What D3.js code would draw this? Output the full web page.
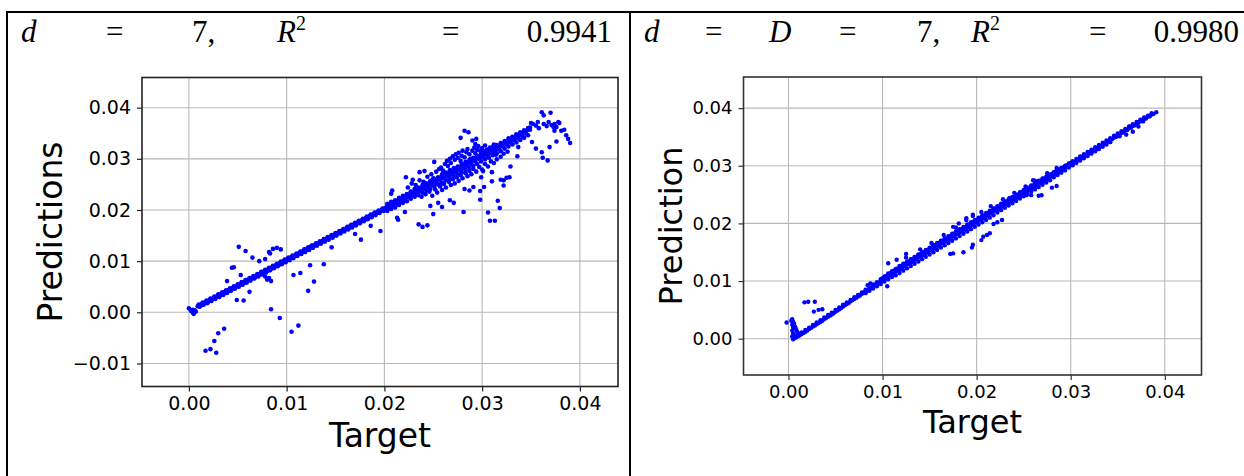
<!DOCTYPE html>
<html>
<head>
<meta charset="utf-8">
<script src="https://cdn.jsdelivr.net/npm/d3@7"></script>
<style>
  html, body { margin: 0; padding: 0; background: #fff; }
  svg { display: block; }
</style>
</head>
<body>
<svg id="chart" width="1244" height="476"></svg>
<script>
// ---- data: [target, prediction] pairs ----

// left panel (d = 7): dense diagonal band of predictions
const leftBand = [
  [0.0000,0.0008],[0.0002,0.0003],[0.0004,-0.0001],[0.0005,-0.0003],[0.0006,0.0004],[0.0007,0.0001],[0.0004,0.0005],
  [0.0009,0.0012],[0.0011,0.0011],[0.0013,0.0016],[0.0015,0.0015],[0.0017,0.0020],[0.0019,0.0018],
  [0.0021,0.0024],[0.0023,0.0022],[0.0025,0.0028],[0.0027,0.0026],[0.0029,0.0032],[0.0031,0.0030],
  [0.0033,0.0036],[0.0035,0.0034],[0.0037,0.0040],[0.0039,0.0038],[0.0041,0.0044],[0.0043,0.0042],
  [0.0045,0.0048],[0.0047,0.0046],[0.0049,0.0052],[0.0051,0.0050],[0.0053,0.0056],[0.0055,0.0054],
  [0.0057,0.0060],[0.0059,0.0058],[0.0061,0.0064],[0.0063,0.0062],[0.0065,0.0068],[0.0067,0.0066],
  [0.0069,0.0072],[0.0071,0.0070],[0.0073,0.0076],[0.0075,0.0074],[0.0077,0.0080],[0.0079,0.0078],
  [0.0081,0.0084],[0.0083,0.0082],[0.0085,0.0088],[0.0087,0.0086],[0.0089,0.0092],[0.0091,0.0090],
  [0.0093,0.0096],[0.0095,0.0094],[0.0097,0.0100],[0.0099,0.0098],[0.0101,0.0105],[0.0103,0.0102],
  [0.0105,0.0108],[0.0107,0.0106],[0.0109,0.0112],[0.0111,0.0110],[0.0113,0.0116],[0.0115,0.0114],
  [0.0117,0.0120],[0.0119,0.0118],[0.0121,0.0124],[0.0123,0.0122],[0.0125,0.0129],[0.0127,0.0126],
  [0.0129,0.0132],[0.0131,0.0130],[0.0133,0.0136],[0.0135,0.0134],[0.0137,0.0140],[0.0139,0.0138],
  [0.0141,0.0144],[0.0143,0.0142],[0.0145,0.0148],[0.0147,0.0146],[0.0149,0.0152],[0.0151,0.0150],
  [0.0153,0.0156],[0.0155,0.0154],[0.0157,0.0160],[0.0159,0.0158],[0.0161,0.0164],[0.0163,0.0162],
  [0.0165,0.0168],[0.0167,0.0166],[0.0169,0.0172],[0.0171,0.0170],[0.0173,0.0176],[0.0175,0.0174],
  [0.0177,0.0180],[0.0179,0.0178],[0.0181,0.0184],[0.0183,0.0182],[0.0185,0.0188],[0.0187,0.0186],
  [0.0189,0.0192],[0.0191,0.0190],[0.0193,0.0196],[0.0195,0.0194],[0.0197,0.0200],[0.0199,0.0198],
  [0.0010,0.0015],[0.0012,0.0013],[0.0014,0.0019],[0.0016,0.0017],[0.0018,0.0023],[0.0020,0.0021],
  [0.0022,0.0027],[0.0024,0.0025],[0.0026,0.0031],[0.0028,0.0029],[0.0030,0.0035],[0.0032,0.0033],
  [0.0034,0.0039],[0.0036,0.0037],[0.0038,0.0043],[0.0040,0.0041],[0.0042,0.0047],[0.0044,0.0045],
  [0.0046,0.0051],[0.0048,0.0049],[0.0050,0.0055],[0.0052,0.0053],[0.0054,0.0059],[0.0056,0.0057],
  [0.0058,0.0063],[0.0060,0.0061],[0.0062,0.0067],[0.0064,0.0065],[0.0066,0.0071],[0.0068,0.0069],
  [0.0070,0.0075],[0.0072,0.0073],[0.0074,0.0079],[0.0076,0.0077],[0.0078,0.0083],[0.0080,0.0081],
  [0.0082,0.0087],[0.0084,0.0085],[0.0086,0.0091],[0.0088,0.0089],[0.0090,0.0095],[0.0092,0.0093],
  [0.0094,0.0099],[0.0096,0.0097],[0.0098,0.0103],[0.0100,0.0102],[0.0102,0.0107],[0.0104,0.0106],
  [0.0106,0.0111],[0.0108,0.0110],[0.0110,0.0115],[0.0112,0.0114],[0.0114,0.0119],[0.0116,0.0118],
  [0.0118,0.0123],[0.0120,0.0122],[0.0122,0.0127],[0.0124,0.0126],[0.0126,0.0131],[0.0128,0.0130],
  [0.0130,0.0135],[0.0132,0.0134],[0.0134,0.0139],[0.0136,0.0138],[0.0138,0.0143],[0.0140,0.0142],
  [0.0142,0.0147],[0.0144,0.0146],[0.0146,0.0151],[0.0148,0.0150],[0.0150,0.0155],[0.0152,0.0154],
  [0.0154,0.0159],[0.0156,0.0158],[0.0158,0.0163],[0.0160,0.0162],[0.0162,0.0167],[0.0164,0.0166],
  [0.0166,0.0171],[0.0168,0.0170],[0.0170,0.0175],[0.0172,0.0174],[0.0174,0.0179],[0.0176,0.0178],
  [0.0178,0.0183],[0.0180,0.0182],[0.0182,0.0187],[0.0184,0.0186],[0.0186,0.0191],[0.0188,0.0190],
  [0.0190,0.0195],[0.0192,0.0194],[0.0194,0.0199],[0.0196,0.0198],[0.0198,0.0203],[0.0200,0.0202],
  // upper range, band widens
  [0.0201,0.0204],[0.0205,0.0208],[0.0209,0.0212],[0.0213,0.0216],[0.0217,0.0220],[0.0221,0.0225],
  [0.0225,0.0229],[0.0229,0.0233],[0.0233,0.0237],[0.0237,0.0241],[0.0241,0.0245],[0.0245,0.0249],
  [0.0249,0.0253],[0.0253,0.0257],[0.0257,0.0262],[0.0261,0.0266],[0.0265,0.0270],[0.0269,0.0274],
  [0.0273,0.0278],[0.0277,0.0282],[0.0281,0.0286],[0.0285,0.0290],[0.0289,0.0294],[0.0293,0.0299],
  [0.0297,0.0303],[0.0301,0.0307],[0.0305,0.0311],[0.0309,0.0315],[0.0313,0.0319],[0.0317,0.0324],
  [0.0321,0.0328],[0.0325,0.0332],[0.0329,0.0336],[0.0333,0.0340],[0.0337,0.0344],[0.0341,0.0349],
  [0.0345,0.0353],[0.0349,0.0357],
  [0.0203,0.0212],[0.0207,0.0216],[0.0211,0.0219],[0.0215,0.0224],[0.0219,0.0228],[0.0223,0.0231],
  [0.0227,0.0236],[0.0231,0.0241],[0.0235,0.0244],[0.0239,0.0249],[0.0243,0.0252],[0.0247,0.0257],
  [0.0251,0.0261],[0.0255,0.0264],[0.0259,0.0270],[0.0263,0.0273],[0.0267,0.0278],[0.0271,0.0282],
  [0.0275,0.0285],[0.0279,0.0290],[0.0283,0.0294],[0.0287,0.0297],[0.0291,0.0302],[0.0295,0.0306],
  [0.0299,0.0310],[0.0303,0.0315],[0.0307,0.0318],[0.0311,0.0323],[0.0315,0.0327],[0.0319,0.0331],
  [0.0323,0.0335],[0.0327,0.0340],[0.0331,0.0343],[0.0335,0.0348],[0.0339,0.0352],[0.0343,0.0356],
  [0.0347,0.0360],
  [0.0203,0.0209],[0.0207,0.0213],[0.0211,0.0217],[0.0215,0.0221],[0.0219,0.0226],[0.0223,0.0230],
  [0.0227,0.0234],[0.0231,0.0238],[0.0235,0.0242],[0.0239,0.0246],[0.0243,0.0250],[0.0247,0.0254],
  [0.0251,0.0258],[0.0255,0.0263],[0.0259,0.0267],[0.0263,0.0271],[0.0267,0.0275],[0.0271,0.0279],
  [0.0275,0.0283],[0.0279,0.0287],[0.0283,0.0291],[0.0287,0.0295],[0.0291,0.0300],[0.0295,0.0304],
  [0.0299,0.0308],[0.0303,0.0312],[0.0307,0.0316],[0.0311,0.0320],[0.0315,0.0324],[0.0319,0.0328],
  [0.0323,0.0332],[0.0327,0.0337],[0.0331,0.0341],[0.0335,0.0345],[0.0339,0.0349],[0.0343,0.0353],
  [0.0347,0.0357],
  [0.0201,0.0200],[0.0205,0.0204],[0.0209,0.0208],[0.0213,0.0212],[0.0217,0.0216],[0.0221,0.0221],
  [0.0225,0.0225],[0.0229,0.0229],[0.0233,0.0233],[0.0237,0.0237],[0.0241,0.0241],[0.0245,0.0245],
  [0.0249,0.0249],[0.0253,0.0253],[0.0257,0.0258],[0.0261,0.0262],[0.0265,0.0266],[0.0269,0.0270],
  [0.0273,0.0274],[0.0277,0.0278],[0.0281,0.0282],[0.0285,0.0286],[0.0289,0.0290],[0.0293,0.0295],
  [0.0297,0.0299],[0.0301,0.0303],[0.0305,0.0307],[0.0309,0.0311],[0.0313,0.0315],[0.0317,0.0320],
  [0.0321,0.0324],[0.0325,0.0328],[0.0329,0.0332],[0.0333,0.0336],[0.0337,0.0340],[0.0341,0.0345],
  [0.0345,0.0349],
  [0.0203,0.0198],[0.0207,0.0202],[0.0211,0.0205],[0.0215,0.0210],[0.0219,0.0214],[0.0223,0.0217],
  [0.0227,0.0222],[0.0231,0.0226],[0.0235,0.0229],[0.0239,0.0234],[0.0243,0.0238],[0.0247,0.0241],
  [0.0251,0.0246],[0.0255,0.0250],[0.0259,0.0253],[0.0263,0.0258],[0.0267,0.0262],[0.0271,0.0266],
  [0.0275,0.0270],[0.0279,0.0274],[0.0283,0.0278],[0.0287,0.0282],[0.0291,0.0286],[0.0295,0.0290],
  [0.0299,0.0295],[0.0303,0.0299],[0.0307,0.0302],[0.0311,0.0307],[0.0315,0.0311],[0.0319,0.0315],
  [0.0323,0.0320],[0.0327,0.0324],[0.0331,0.0328],[0.0335,0.0332],[0.0339,0.0337],[0.0343,0.0341],
  [0.0347,0.0346]
];

// left panel: spread of predictions around the band
const leftCloud = [
  [0.0224,0.0244],[0.0228,0.0252],[0.0232,0.0249],[0.0236,0.0258],[0.0240,0.0255],[0.0244,0.0265],
  [0.0248,0.0270],[0.0250,0.0262],[0.0253,0.0275],[0.0256,0.0280],[0.0258,0.0283],[0.0260,0.0277],
  [0.0262,0.0290],[0.0264,0.0296],[0.0265,0.0286],[0.0267,0.0300],[0.0268,0.0292],[0.0270,0.0305],
  [0.0272,0.0298],[0.0273,0.0309],[0.0275,0.0302],[0.0276,0.0312],[0.0278,0.0296],[0.0279,0.0306],
  [0.0280,0.0316],[0.0282,0.0303],[0.0284,0.0313],[0.0285,0.0319],[0.0287,0.0309],[0.0288,0.0300],
  [0.0290,0.0316],[0.0292,0.0322],[0.0293,0.0311],[0.0295,0.0318],[0.0296,0.0325],[0.0298,0.0316],
  [0.0300,0.0321],[0.0302,0.0314],[0.0303,0.0326],[0.0305,0.0318],[0.0306,0.0306],[0.0308,0.0322],
  [0.0310,0.0312],[0.0312,0.0328],[0.0314,0.0308],[0.0316,0.0320],
  [0.0238,0.0226],[0.0242,0.0231],[0.0246,0.0236],[0.0249,0.0228],[0.0252,0.0240],[0.0254,0.0234],
  [0.0257,0.0246],[0.0259,0.0239],[0.0261,0.0251],[0.0263,0.0244],[0.0266,0.0255],[0.0268,0.0249],
  [0.0270,0.0260],[0.0272,0.0252],[0.0274,0.0264],[0.0276,0.0257],[0.0278,0.0268],[0.0280,0.0262],
  [0.0283,0.0272],[0.0285,0.0266],[0.0287,0.0276],[0.0289,0.0270],[0.0291,0.0280],[0.0294,0.0275],
  [0.0297,0.0284],[0.0300,0.0279],[0.0303,0.0290],[0.0306,0.0285],[0.0309,0.0295],[0.0312,0.0292],
  [0.0315,0.0299],[0.0319,0.0304],[0.0322,0.0310],[0.0326,0.0314]
];

// left panel: isolated predictions
const leftOutliers = [
  [0.0017,-0.0075],[0.0022,-0.0072],[0.0028,-0.0079],[0.0026,-0.0056],[0.0030,-0.0041],[0.0036,-0.0032],
  [0.0039,0.0061],[0.0044,0.0087],[0.0046,0.0088],[0.0051,0.0128],[0.0053,0.0073],[0.0058,0.0120],
  [0.0049,0.0024],[0.0056,0.0023],[0.0062,0.0040],[0.0065,0.0107],[0.0072,0.0100],[0.0078,0.0104],
  [0.0082,0.0118],[0.0083,0.0115],[0.0086,0.0124],[0.0090,0.0126],[0.0094,0.0123],[0.0078,0.0070],
  [0.0080,0.0064],[0.0084,0.0061],[0.0082,0.0067],[0.0084,0.0006],[0.0093,-0.0011],[0.0105,-0.0038],
  [0.0112,-0.0026],[0.0107,0.0073],[0.0114,0.0077],[0.0124,0.0092],[0.0122,0.0042],[0.0128,0.0060],
  [0.0138,0.0094],[0.0146,0.0127],[0.0170,0.0153],[0.0176,0.0142],[0.0186,0.0169],[0.0196,0.0159],
  [0.0213,0.0185],[0.0214,0.0181],[0.0221,0.0196],[0.0235,0.0172],[0.0239,0.0167],[0.0244,0.0170],
  [0.0250,0.0192],[0.0247,0.0208],[0.0259,0.0206],[0.0255,0.0214],[0.0267,0.0219],[0.0271,0.0214],
  [0.0281,0.0196],[0.0282,0.0241],[0.0287,0.0238],[0.0291,0.0245],[0.0298,0.0220],[0.0298,0.0237],
  [0.0306,0.0195],[0.0308,0.0179],[0.0313,0.0179],[0.0316,0.0218],[0.0318,0.0204],[0.0322,0.0248],
  [0.0322,0.0258],[0.0319,0.0259],[0.0325,0.0263],[0.0329,0.0285],[0.0328,0.0264],[0.0310,0.0256],
  [0.0310,0.0274],[0.0302,0.0245],[0.0299,0.0264],[0.0301,0.0276],[0.0222,0.0264],[0.0229,0.0259],
  [0.0208,0.0238],[0.0207,0.0232],[0.0236,0.0274],[0.0241,0.0276],[0.0251,0.0294],[0.0278,0.0341],
  [0.0282,0.0355],[0.0286,0.0352],[0.0290,0.0336],[0.0293,0.0329],[0.0294,0.0339],[0.0337,0.0323],
  [0.0336,0.0305],[0.0351,0.0333],[0.0355,0.0320],[0.0361,0.0313],[0.0362,0.0302],[0.0367,0.0297],
  [0.0369,0.0323],[0.0376,0.0334],[0.0390,0.0331],[0.0388,0.0339],[0.0384,0.0357],[0.0379,0.0370],
  [0.0378,0.0372],[0.0361,0.0391],[0.0370,0.0390],[0.0363,0.0385],[0.0357,0.0372],[0.0366,0.0364],
  [0.0373,0.0362],[0.0374,0.0368],[0.0350,0.0370],[0.0349,0.0361],[0.0352,0.0368],[0.0374,0.0355],
  [0.0355,0.0365],[0.0358,0.0360],[0.0363,0.0368],[0.0368,0.0372],[0.0371,0.0366],[0.0376,0.0362],
  [0.0381,0.0355],[0.0386,0.0346]
];

// right panel (d = D = 7): small hook near zero
const rightHook = [
  [-0.0002,0.0028],[0.0003,0.0031],[0.0004,0.0034],[0.0005,0.0029],[0.0004,0.0024],[0.0005,0.0019],
  [0.0004,0.0014],[0.0005,0.0009],[0.0004,0.0004],[0.0006,0.0026],[0.0007,0.0021],[0.0008,0.0017],
  [0.0009,0.0013],[0.0010,0.0010],[0.0006,0.0001],[0.0007,0.0005],[0.0008,0.0002],[0.0010,0.0004],
  [0.0005,-0.0001]
];

// right panel: dense diagonal band
const rightBand = [
  [0.0012,0.0006],[0.0016,0.0010],[0.0020,0.0014],[0.0024,0.0019],[0.0028,0.0023],[0.0032,0.0027],
  [0.0036,0.0031],[0.0040,0.0036],[0.0044,0.0040],[0.0048,0.0044],[0.0052,0.0049],[0.0056,0.0053],
  [0.0060,0.0058],[0.0064,0.0062],[0.0068,0.0067],[0.0072,0.0071],[0.0076,0.0075],[0.0080,0.0080],
  [0.0084,0.0084],[0.0088,0.0088],[0.0092,0.0093],[0.0096,0.0097],[0.0100,0.0101],[0.0104,0.0105],
  [0.0108,0.0109],[0.0112,0.0114],[0.0116,0.0118],[0.0120,0.0122],[0.0124,0.0126],[0.0128,0.0130],
  [0.0132,0.0134],[0.0136,0.0138],[0.0140,0.0142],[0.0144,0.0146],[0.0148,0.0150],[0.0152,0.0154],
  [0.0156,0.0158],[0.0160,0.0162],[0.0164,0.0166],[0.0168,0.0170],[0.0172,0.0174],[0.0176,0.0178],
  [0.0180,0.0182],[0.0184,0.0186],[0.0188,0.0190],[0.0192,0.0194],[0.0196,0.0198],[0.0200,0.0202],
  [0.0204,0.0206],[0.0208,0.0210],[0.0212,0.0214],[0.0216,0.0218],[0.0220,0.0222],[0.0224,0.0226],
  [0.0228,0.0230],[0.0232,0.0234],[0.0236,0.0238],[0.0240,0.0242],[0.0244,0.0246],[0.0248,0.0250],
  [0.0252,0.0254],[0.0256,0.0258],[0.0260,0.0262],[0.0264,0.0266],[0.0268,0.0270],[0.0272,0.0274],
  [0.0276,0.0278],[0.0280,0.0282],[0.0284,0.0286],[0.0288,0.0290],[0.0292,0.0294],[0.0296,0.0298],
  [0.0300,0.0302],[0.0304,0.0306],[0.0308,0.0310],[0.0312,0.0314],[0.0316,0.0318],[0.0320,0.0322],
  [0.0324,0.0326],[0.0328,0.0330],[0.0332,0.0334],[0.0336,0.0338],[0.0340,0.0342],[0.0344,0.0346],
  [0.0348,0.0350],[0.0352,0.0354],[0.0356,0.0358],[0.0360,0.0362],[0.0364,0.0366],[0.0368,0.0370],
  [0.0372,0.0375],[0.0376,0.0378],[0.0380,0.0382],[0.0384,0.0386],[0.0388,0.0390],[0.0391,0.0393],
  [0.0014,0.0008],[0.0018,0.0012],[0.0022,0.0017],[0.0026,0.0021],[0.0030,0.0025],[0.0034,0.0029],
  [0.0038,0.0034],[0.0042,0.0038],[0.0046,0.0042],[0.0050,0.0047],[0.0054,0.0051],[0.0058,0.0056],
  [0.0062,0.0060],[0.0066,0.0065],[0.0070,0.0069],[0.0074,0.0073],[0.0078,0.0078],[0.0082,0.0082],
  [0.0086,0.0086],[0.0090,0.0091],[0.0094,0.0095],[0.0098,0.0099],[0.0102,0.0104],[0.0106,0.0108],
  [0.0110,0.0112],[0.0114,0.0117],[0.0118,0.0121],[0.0122,0.0125],[0.0126,0.0129],[0.0130,0.0133],
  [0.0134,0.0137],[0.0138,0.0141],[0.0142,0.0145],[0.0146,0.0149],[0.0150,0.0153],[0.0154,0.0157],
  [0.0158,0.0161],[0.0162,0.0165],[0.0166,0.0169],[0.0170,0.0173],[0.0174,0.0177],[0.0178,0.0181],
  [0.0182,0.0185],[0.0186,0.0189],[0.0190,0.0193],[0.0194,0.0197],[0.0198,0.0201],[0.0202,0.0205],
  [0.0206,0.0209],[0.0210,0.0213],[0.0214,0.0217],[0.0218,0.0221],[0.0222,0.0225],[0.0226,0.0229],
  [0.0230,0.0233],[0.0234,0.0237],[0.0238,0.0241],[0.0242,0.0245],[0.0246,0.0249],[0.0250,0.0253],
  [0.0254,0.0257],[0.0258,0.0261],[0.0262,0.0265],[0.0266,0.0269],[0.0270,0.0273],[0.0274,0.0277],
  [0.0278,0.0281],[0.0282,0.0285],[0.0286,0.0289],[0.0290,0.0293],[0.0294,0.0297],[0.0298,0.0301],
  [0.0302,0.0305],[0.0306,0.0309],[0.0310,0.0313],[0.0314,0.0317],[0.0318,0.0321],[0.0322,0.0325],
  [0.0326,0.0329],[0.0330,0.0333],[0.0334,0.0337],[0.0338,0.0341],[0.0342,0.0345],[0.0346,0.0349],
  [0.0350,0.0353],[0.0354,0.0357],[0.0358,0.0361],[0.0362,0.0365],[0.0366,0.0369],[0.0370,0.0373],
  [0.0374,0.0377],[0.0378,0.0381],[0.0382,0.0385],[0.0386,0.0389],
  [0.0014,0.0011],[0.0018,0.0015],[0.0022,0.0019],[0.0026,0.0024],[0.0030,0.0028],[0.0034,0.0032],
  [0.0038,0.0037],[0.0042,0.0041],[0.0046,0.0045],[0.0050,0.0050],[0.0054,0.0054],[0.0058,0.0059],
  [0.0062,0.0063],[0.0066,0.0067],[0.0070,0.0072],[0.0074,0.0076],[0.0078,0.0080],[0.0082,0.0085],
  [0.0086,0.0089],[0.0090,0.0094],[0.0094,0.0098],[0.0098,0.0103],[0.0102,0.0108],[0.0106,0.0113],
  [0.0110,0.0117],[0.0114,0.0121],[0.0118,0.0126],[0.0122,0.0130],[0.0126,0.0134],[0.0130,0.0138],
  [0.0134,0.0142],[0.0138,0.0146],[0.0142,0.0150],[0.0146,0.0154],[0.0150,0.0158],[0.0154,0.0162],
  [0.0158,0.0166],[0.0162,0.0170],[0.0166,0.0174],[0.0170,0.0178],[0.0174,0.0182],[0.0178,0.0186],
  [0.0182,0.0190],[0.0186,0.0194],[0.0190,0.0198],[0.0194,0.0202],[0.0198,0.0206],[0.0202,0.0210],
  [0.0206,0.0214],[0.0210,0.0218],[0.0214,0.0222],[0.0218,0.0226],[0.0222,0.0230],[0.0226,0.0234],
  [0.0230,0.0238],[0.0234,0.0242],[0.0238,0.0246],[0.0242,0.0250],[0.0246,0.0254],[0.0250,0.0258],
  [0.0254,0.0262],[0.0258,0.0266],[0.0262,0.0270],[0.0266,0.0274],[0.0270,0.0278],[0.0274,0.0281],
  [0.0278,0.0285],[0.0282,0.0289],[0.0286,0.0292],[0.0290,0.0296],[0.0294,0.0300],[0.0298,0.0304],
  [0.0302,0.0308],[0.0306,0.0312],[0.0310,0.0316],[0.0314,0.0320],[0.0318,0.0324],[0.0322,0.0328],
  [0.0326,0.0332],[0.0330,0.0336],[0.0334,0.0340],[0.0338,0.0344],[0.0342,0.0348],[0.0346,0.0352],
  [0.0350,0.0356],[0.0354,0.0360],[0.0358,0.0364],[0.0362,0.0368],[0.0366,0.0372],[0.0370,0.0376],
  [0.0374,0.0380],[0.0378,0.0384],[0.0382,0.0387],[0.0386,0.0391],
  [0.0100,0.0105],[0.0104,0.0109],[0.0108,0.0113],[0.0112,0.0118],[0.0116,0.0122],[0.0120,0.0126],
  [0.0124,0.0130],[0.0128,0.0134],[0.0132,0.0138],[0.0136,0.0142],[0.0140,0.0146],[0.0144,0.0150],
  [0.0148,0.0154],[0.0152,0.0158],[0.0156,0.0162],[0.0160,0.0166],[0.0164,0.0170],[0.0168,0.0174],
  [0.0172,0.0178],[0.0176,0.0182],[0.0180,0.0186],[0.0184,0.0190],[0.0188,0.0194],[0.0192,0.0198],
  [0.0196,0.0202],[0.0200,0.0206],[0.0204,0.0210],[0.0208,0.0214],[0.0212,0.0218],[0.0216,0.0222],
  [0.0220,0.0226],[0.0224,0.0230],[0.0228,0.0234],[0.0232,0.0238],[0.0236,0.0242],[0.0240,0.0246],
  [0.0244,0.0250],[0.0248,0.0254],[0.0252,0.0258],[0.0256,0.0262],[0.0260,0.0266],[0.0264,0.0270],
  [0.0268,0.0274],[0.0272,0.0278],[0.0276,0.0282],[0.0280,0.0286],[0.0284,0.0290],[0.0288,0.0294],
  [0.0292,0.0297],[0.0296,0.0301],[0.0300,0.0305],
  [0.0082,0.0079],[0.0086,0.0083],[0.0090,0.0087],[0.0094,0.0091],[0.0098,0.0095],[0.0102,0.0099],
  [0.0106,0.0103],[0.0110,0.0107],[0.0114,0.0110],[0.0118,0.0114],[0.0122,0.0118],[0.0126,0.0122],
  [0.0130,0.0126],[0.0134,0.0130],[0.0138,0.0134],[0.0142,0.0138],[0.0146,0.0142],[0.0150,0.0146],
  [0.0154,0.0150],[0.0158,0.0154],[0.0162,0.0158],[0.0166,0.0162],[0.0170,0.0166],[0.0174,0.0170],
  [0.0178,0.0174],[0.0182,0.0178],[0.0186,0.0182],[0.0190,0.0186],[0.0194,0.0190],[0.0198,0.0194],
  [0.0202,0.0198],[0.0206,0.0202],[0.0210,0.0206],[0.0214,0.0210],[0.0218,0.0214],[0.0222,0.0219],
  [0.0226,0.0223],[0.0230,0.0227],[0.0234,0.0231],[0.0238,0.0235],[0.0242,0.0239],[0.0246,0.0243],
  [0.0250,0.0247],[0.0254,0.0251],[0.0258,0.0255],[0.0262,0.0259],[0.0266,0.0263],[0.0270,0.0267],
  [0.0274,0.0271],[0.0278,0.0275],[0.0282,0.0280],[0.0286,0.0284],[0.0290,0.0288],[0.0294,0.0292],
  [0.0298,0.0297],[0.0302,0.0301],[0.0306,0.0305],[0.0310,0.0309],[0.0314,0.0313],[0.0318,0.0317],
  [0.0322,0.0321],[0.0326,0.0325],[0.0330,0.0329],[0.0334,0.0333],[0.0338,0.0337],[0.0342,0.0341],
  [0.0125,0.0141],[0.0140,0.0155],[0.0152,0.0166],[0.0165,0.0180],[0.0178,0.0193],[0.0189,0.0206],
  [0.0196,0.0213],[0.0205,0.0220],[0.0215,0.0230],[0.0228,0.0242],[0.0240,0.0253],[0.0252,0.0264],
  [0.0262,0.0274],[0.0275,0.0287],[0.0285,0.0296]
];

// right panel: isolated predictions
const rightOutliers = [
  [0.0017,0.0063],[0.0021,0.0064],[0.0028,0.0064],[0.0027,0.0047],[0.0032,0.0050],[0.0036,0.0051],
  [0.0106,0.0131],[0.0115,0.0137],[0.0125,0.0147],[0.0105,0.0091],[0.0084,0.0093],[0.0087,0.0096],
  [0.0172,0.0147],[0.0175,0.0148],[0.0186,0.0150],[0.0195,0.0158],[0.0196,0.0163],[0.0205,0.0171],
  [0.0207,0.0177],[0.0211,0.0180],[0.0214,0.0183],[0.0218,0.0199],[0.0222,0.0202],[0.0227,0.0206],
  [0.0189,0.0209],[0.0196,0.0215],[0.0175,0.0194],[0.0181,0.0200],[0.0235,0.0244],[0.0242,0.0247],
  [0.0253,0.0249],[0.0258,0.0249],[0.0266,0.0248],[0.0269,0.0249],[0.0280,0.0262],[0.0285,0.0265],
  [0.0260,0.0275],[0.0366,0.0359],[0.0372,0.0368],[0.0377,0.0377],[0.0363,0.0368],[0.0352,0.0351],
  [0.0359,0.0354]
];

// tick values
const leftXTicks = [0.00, 0.01, 0.02, 0.03, 0.04];
const leftYTicks = [-0.01, 0.00, 0.01, 0.02, 0.03, 0.04];
const rightXTicks = [0.00, 0.01, 0.02, 0.03, 0.04];
const rightYTicks = [0.00, 0.01, 0.02, 0.03, 0.04];

// ---- drawing ----
const svg = d3.select("#chart");
svg.append("rect").attr("width", 1244).attr("height", 476).attr("fill", "#fff");

const fmt = d3.format(".2f");

function drawPanel(cfg) {
  const g = svg.append("g");
  const x = d3.scaleLinear().domain(cfg.xDomain).range([cfg.box.left, cfg.box.right]);
  const y = d3.scaleLinear().domain(cfg.yDomain).range([cfg.box.bottom, cfg.box.top]);

  // grid
  g.append("g").selectAll("line").data(cfg.xTicks).join("line")
    .attr("x1", d => x(d)).attr("x2", d => x(d))
    .attr("y1", cfg.box.top).attr("y2", cfg.box.bottom)
    .attr("stroke", "#b8b8b8").attr("stroke-width", 1.1);
  g.append("g").selectAll("line").data(cfg.yTicks).join("line")
    .attr("y1", d => y(d)).attr("y2", d => y(d))
    .attr("x1", cfg.box.left).attr("x2", cfg.box.right)
    .attr("stroke", "#b8b8b8").attr("stroke-width", 1.1);

  // points
  g.append("g").selectAll("circle").data(cfg.points).join("circle")
    .attr("cx", d => x(d[0])).attr("cy", d => y(d[1]))
    .attr("r", cfg.r).attr("fill", "#0000ff");

  // axes
  const xAxis = g.append("g").attr("transform", `translate(0,${cfg.box.bottom})`)
    .call(d3.axisBottom(x).tickValues(cfg.xTicks).tickFormat(fmt).tickSize(5).tickPadding(cfg.xPad).tickSizeOuter(0));
  const yAxis = g.append("g").attr("transform", `translate(${cfg.box.left},0)`)
    .call(d3.axisLeft(y).tickValues(cfg.yTicks).tickFormat(fmt).tickSize(5).tickPadding(6).tickSizeOuter(0));
  [xAxis, yAxis].forEach(a => {
    a.select(".domain").remove();
    a.selectAll(".tick line").attr("stroke", cfg.spine).attr("stroke-width", 1.2);
    a.selectAll(".tick text").attr("fill", "#000")
      .style("font-family", "'DejaVu Sans', sans-serif").style("font-size", cfg.tickFont + "px");
  });

  // frame
  g.append("rect")
    .attr("x", cfg.box.left).attr("y", cfg.box.top)
    .attr("width", cfg.box.right - cfg.box.left).attr("height", cfg.box.bottom - cfg.box.top)
    .attr("fill", "none").attr("stroke", cfg.spine).attr("stroke-width", 1.6);

  // axis titles
  g.append("text")
    .attr("x", (cfg.box.left + cfg.box.right) / 2).attr("y", cfg.xTitleY)
    .attr("text-anchor", "middle")
    .style("font-family", "'DejaVu Sans', sans-serif").style("font-size", cfg.titleFont + "px")
    .text(cfg.xTitle);
  g.append("text")
    .attr("transform", `translate(${cfg.yTitleX},${(cfg.box.top + cfg.box.bottom) / 2}) rotate(-90)`)
    .attr("text-anchor", "middle")
    .style("font-family", "'DejaVu Sans', sans-serif").style("font-size", cfg.titleFont + "px")
    .text(cfg.yTitle);
}

drawPanel({
  box: { left: 142, right: 618, top: 77.5, bottom: 386.5 },
  xDomain: [-0.0048, 0.0439], yDomain: [-0.0145, 0.0459],
  xTicks: leftXTicks, yTicks: leftYTicks,
  points: leftBand.concat(leftCloud, leftOutliers), r: 2.3,
  spine: "#222", tickFont: 19, titleFont: 33, xPad: 5,
  xTitle: "Target", xTitleY: 447, yTitle: "Predictions", yTitleX: 62
});

drawPanel({
  box: { left: 743.5, right: 1201.5, top: 77, bottom: 375 },
  xDomain: [-0.00478, 0.0439], yDomain: [-0.0063, 0.0454],
  xTicks: rightXTicks, yTicks: rightYTicks,
  points: rightHook.concat(rightBand, rightOutliers), r: 2.2,
  spine: "#333", tickFont: 18, titleFont: 32, xPad: 5,
  xTitle: "Target", xTitleY: 433, yTitle: "Prediction", yTitleX: 682
});

// ---- table frame and headers ----
const frame = svg.append("g").attr("stroke", "#000").attr("stroke-width", 2);
frame.append("line").attr("x1", 6).attr("x2", 1244).attr("y1", 12).attr("y2", 12);
frame.append("line").attr("x1", 7).attr("x2", 7).attr("y1", 11).attr("y2", 476);
frame.append("line").attr("x1", 630).attr("x2", 630).attr("y1", 11).attr("y2", 476);

const headerLeft = [
  { x: 21, t: "d", it: true }, { x: 106, t: "=" }, { x: 192, t: "7," },
  { x: 277, t: "R", it: true, sup: "2" }, { x: 442, t: "=" }, { x: 612, t: "0.9941", end: true }
];
const headerRight = [
  { x: 644, t: "d", it: true }, { x: 705, t: "=" }, { x: 769, t: "D", it: true }, { x: 839, t: "=" },
  { x: 917, t: "7," }, { x: 971, t: "R", it: true, sup: "2" }, { x: 1089, t: "=" },
  { x: 1239, t: "0.9980", end: true }
];

function drawHeader(tokens) {
  const g = svg.append("g")
    .style("font-family", "'Liberation Serif', 'Times New Roman', serif")
    .style("font-size", "31px");
  tokens.forEach(tok => {
    const t = g.append("text").attr("x", tok.x).attr("y", 42)
      .attr("text-anchor", tok.end ? "end" : "start");
    t.append("tspan").style("font-style", tok.it ? "italic" : "normal").text(tok.t);
    if (tok.sup) {
      t.append("tspan").attr("dy", -12).style("font-size", "20px").text(tok.sup);
    }
  });
}
drawHeader(headerLeft);
drawHeader(headerRight);
</script>
</body>
</html>
